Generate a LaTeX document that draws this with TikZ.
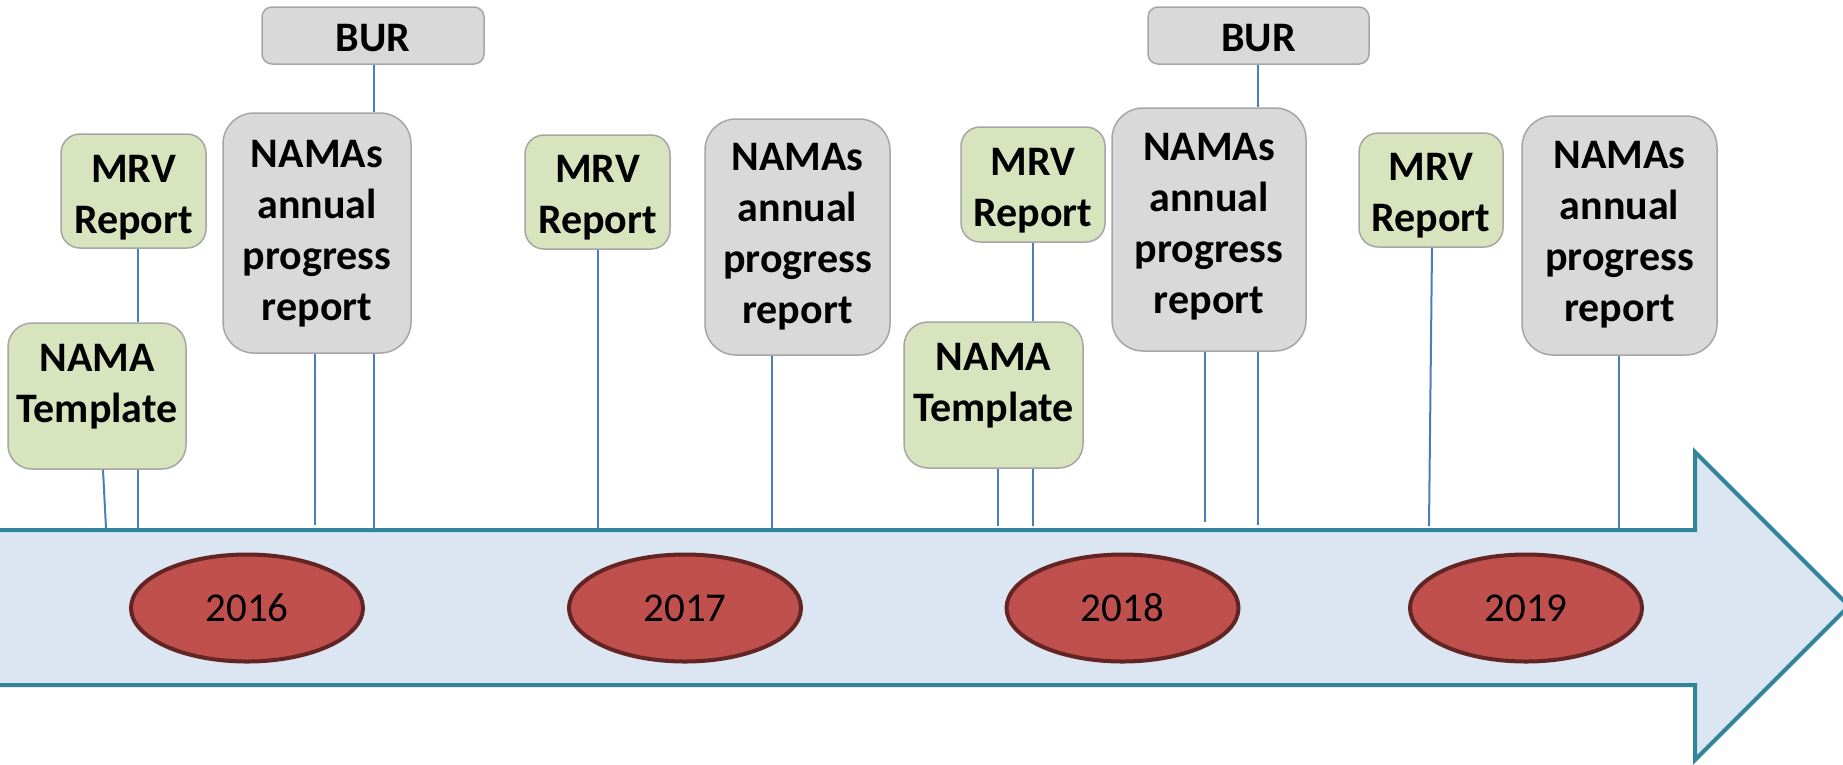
\documentclass[tikz,border=0pt]{standalone}
\usepackage{fontspec}
\setmainfont{Carlito}
\usetikzlibrary{shapes.geometric}
\definecolor{arrowedge}{HTML}{31849B}
\definecolor{arrowfill}{HTML}{DCE6F2}
\definecolor{yearfill}{HTML}{C0504D}
\definecolor{yearedge}{HTML}{632523}
\definecolor{greenfill}{HTML}{D7E4BD}
\definecolor{grayfill}{HTML}{D9D9D9}
\definecolor{boxedge}{HTML}{A6A6A6}
\definecolor{conncol}{HTML}{4A7EBB}
\tikzset{
  box/.style={draw=boxedge, line width=1.5, rounded corners=#1, inner sep=0},
  greenbox/.style={box=#1, fill=greenfill},
  graybox/.style={box=#1, fill=grayfill},
  lbl/.style={align=center, font=\fontsize{42}{51}\selectfont\bfseries, inner sep=0},
  yearnode/.style={ellipse, draw=yearedge, line width=4, fill=yearfill, minimum width=232, minimum height=107, inner sep=0, font=\fontsize{41}{48}\selectfont},
  conn/.style={draw=conncol, line width=2},
  timeline/.style={draw=arrowedge, fill=arrowfill, line width=4, line join=miter},
}
\begin{document}
\begin{tikzpicture}[x=1pt,y=-1pt]
\useasboundingbox (0,0) rectangle (1843,764);

% timeline arrow
\draw[timeline] (-10,530) -- (1695,530) -- (1695,452) -- (1849,606) -- (1695,760) -- (1695,685) -- (-10,685) -- cycle;

% year ellipses
\node[yearnode] (y16) at (247,608) {2016};
\node[yearnode] (y17) at (685,608) {2017};
\node[yearnode] (y18) at (1122.5,608) {2018};
\node[yearnode] (y19) at (1526,608) {2019};

% end points on the timeline
\coordinate (e1) at (106,528);
\coordinate (e2) at (137.5,528);
\coordinate (e3) at (315,525);
\coordinate (e4) at (374,529);
\coordinate (e5) at (598,528);
\coordinate (e6) at (772,528);
\coordinate (e7) at (998,526);
\coordinate (e8) at (1033,526);
\coordinate (e9) at (1205,522);
\coordinate (e10) at (1258,525);
\coordinate (e11) at (1429,526);
\coordinate (e12) at (1619,528);

% boxes 2016
\node[graybox=10, minimum width=222, minimum height=57] (b16) at (373,35.5) {};
\node[graybox=31, minimum width=188, minimum height=240] (n16) at (317,233) {};
\node[greenbox=19, minimum width=145, minimum height=114] (m16) at (133.5,191) {};
\node[greenbox=24, minimum width=178, minimum height=146] (t16) at (97,396) {};
% boxes 2017
\node[greenbox=19, minimum width=145, minimum height=114] (m17) at (597.5,192) {};
\node[graybox=31, minimum width=185, minimum height=236] (n17) at (797.5,237) {};
% boxes 2018
\node[greenbox=19, minimum width=144, minimum height=115] (m18) at (1033,184.5) {};
\node[greenbox=24, minimum width=179, minimum height=146] (t18) at (993.5,395) {};
\node[graybox=31, minimum width=194, minimum height=243] (n18) at (1209,229.5) {};
\node[graybox=10, minimum width=221, minimum height=57] (b18) at (1258.5,35.5) {};
% boxes 2019
\node[greenbox=19, minimum width=144, minimum height=114] (m19) at (1431,190) {};
\node[graybox=31, minimum width=195, minimum height=239] (n19) at (1619.5,235.5) {};

% texts
\node[lbl] (tb16) at (373,37.6) {BUR};
\node[lbl] (tn16) at (317,233.5) {NAMAs\\annual\\progress\\report};
\node[lbl] (tm16) at (133.5,197.5) {MRV\\Report};
\node[lbl] (tt16) at (97,386.5) {NAMA\\Template};
\node[lbl] (tm17) at (597.5,198) {MRV\\Report};
\node[lbl] (tn17) at (797.5,236.5) {NAMAs\\annual\\progress\\report};
\node[lbl] (tm18) at (1033,190.5) {MRV\\Report};
\node[lbl] (tt18) at (993.5,386) {NAMA\\Template};
\node[lbl] (tn18) at (1209,227) {NAMAs\\annual\\progress\\report};
\node[lbl] (tb18) at (1258.5,37.6) {BUR};
\node[lbl] (tm19) at (1431,195.5) {MRV\\Report};
\node[lbl] (tn19) at (1619.5,235) {NAMAs\\annual\\progress\\report};

% connectors 2016
\draw[conn] ([xshift=6]t16.south) -- (e1);
\draw[conn] (t16.south -| e2) -- (e2);
\draw[conn] (m16.south -| e2) -- (t16.north -| e2);
\draw[conn] (n16.south -| e3) -- (e3);
\draw[conn] (n16.south -| e4) -- (e4);
\draw[conn] (b16.south -| e4) -- (n16.north -| e4);
% connectors 2017
\draw[conn] (m17.south -| e5) -- (e5);
\draw[conn] (n17.south -| e6) -- (e6);
% connectors 2018
\draw[conn] (m18.south -| e8) -- (t18.north -| e8);
\draw[conn] (t18.south -| e7) -- (e7);
\draw[conn] (t18.south -| e8) -- (e8);
\draw[conn] (n18.south -| e9) -- (e9);
\draw[conn] (n18.south -| e10) -- (e10);
\draw[conn] (b18.south -| e10) -- (n18.north -| e10);
% connectors 2019
\draw[conn] ([xshift=1]m19.south) -- (e11);
\draw[conn] (n19.south -| e12) -- (e12);
\end{tikzpicture}
\end{document}
